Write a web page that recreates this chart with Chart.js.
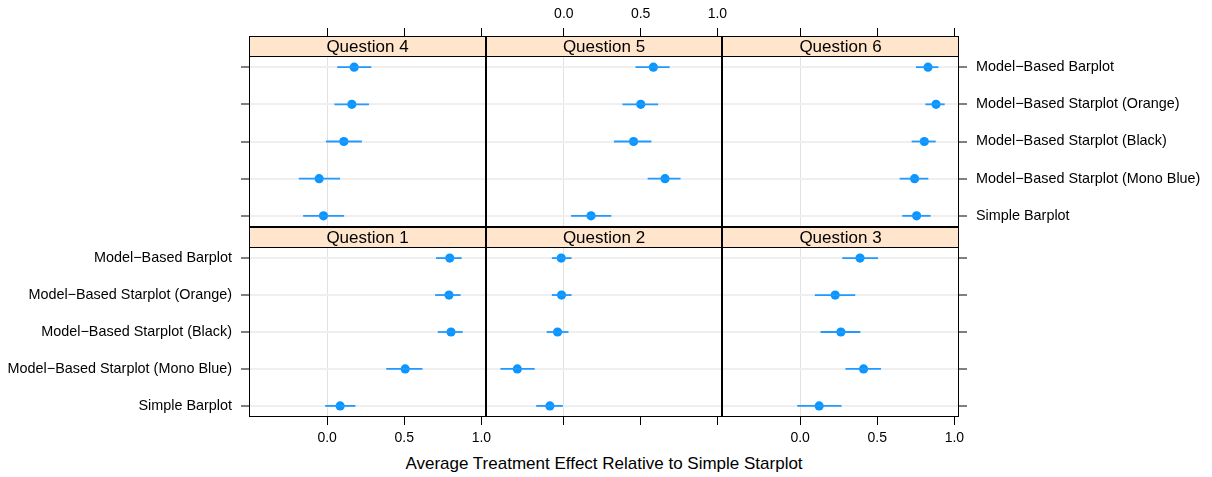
<!DOCTYPE html>
<html>
<head>
<meta charset="utf-8">
<script src="https://cdn.jsdelivr.net/npm/chart.js@4/dist/chart.umd.min.js"></script>
<style>
html,body{margin:0;padding:0;background:#fff;}
#wrap{position:relative;width:1212px;height:477px;overflow:hidden;}
#wrap canvas{position:absolute;left:0;top:0;}
#xtitle{position:absolute;left:249px;width:710px;top:454px;line-height:20px;text-align:center;font-size:17px;font-family:"Liberation Sans",Arial,sans-serif;color:#000;}
</style>
</head>
<body>
<div id="wrap">
  <div id="xtitle">Average Treatment Effect Relative to Simple Starplot</div>
</div>
<script>
// categories, bottom to top (y = 1..5)
const categories=['Simple Barplot','Model\u2212Based Starplot (Mono Blue)','Model\u2212Based Starplot (Black)','Model\u2212Based Starplot (Orange)','Model\u2212Based Barplot'];
const xTicks=[0,0.5,1.0];
const yTicks=[1,2,3,4,5];

// estimates and interval ends, same order as categories
const q1Est=[0.084,0.506,0.803,0.790,0.795];
const q1Lo =[-0.013,0.383,0.717,0.700,0.706];
const q1Hi =[0.183,0.618,0.879,0.865,0.872];
const q2Est=[-0.091,-0.303,-0.041,-0.015,-0.017];
const q2Lo =[-0.180,-0.413,-0.112,-0.078,-0.078];
const q2Hi =[-0.006,-0.190,0.030,0.050,0.050];
const q3Est=[0.123,0.411,0.264,0.227,0.388];
const q3Lo =[-0.019,0.294,0.132,0.095,0.273];
const q3Hi =[0.268,0.524,0.390,0.357,0.505];
const q4Est=[-0.024,-0.052,0.108,0.160,0.175];
const q4Lo =[-0.156,-0.184,-0.008,0.047,0.065];
const q4Hi =[0.110,0.084,0.225,0.271,0.286];
const q5Est=[0.177,0.659,0.454,0.501,0.583];
const q5Lo =[0.047,0.546,0.326,0.382,0.467];
const q5Hi =[0.309,0.760,0.570,0.614,0.689];
const q6Est=[0.755,0.742,0.805,0.881,0.829];
const q6Lo =[0.662,0.645,0.723,0.812,0.751];
const q6Hi =[0.846,0.831,0.879,0.937,0.896];

// layout
const W=1212,H=477;
const colEdges=[249,486,722,959];
const rowEdges=[[36,227],[227,417]]; // strip top .. body bottom
const stripH=20;
const xMin=-0.507,xMax=1.03;
const yMin=0.7,yMax=5.3;
const dotColor='#0a96ff', barColor='#2299ff';
const font={family:'"Liberation Sans", Arial, sans-serif',size:14};

Chart.defaults.font.family=font.family;
Chart.defaults.color='#000';

const panels=[
  {label:'Question 4',est:q4Est,lo:q4Lo,hi:q4Hi,col:0,row:0},
  {label:'Question 5',est:q5Est,lo:q5Lo,hi:q5Hi,col:1,row:0},
  {label:'Question 6',est:q6Est,lo:q6Lo,hi:q6Hi,col:2,row:0},
  {label:'Question 1',est:q1Est,lo:q1Lo,hi:q1Hi,col:0,row:1},
  {label:'Question 2',est:q2Est,lo:q2Lo,hi:q2Hi,col:1,row:1},
  {label:'Question 3',est:q3Est,lo:q3Lo,hi:q3Hi,col:2,row:1}
];

// strip + frame
const stripPlugin={
  id:'strip',
  afterDraw(chart,args,opts){
    const {ctx,chartArea:a}=chart;
    ctx.save();
    ctx.fillStyle='#ffe5cc';
    ctx.fillRect(a.left,a.top,a.right-a.left,stripH);
    ctx.strokeStyle='#000';
    ctx.lineWidth=1;
    ctx.beginPath();
    ctx.moveTo(a.left,a.top+stripH+0.5);
    ctx.lineTo(a.right,a.top+stripH+0.5);
    ctx.stroke();
    ctx.strokeRect(a.left+0.5,a.top+0.5,a.right-a.left-1,a.bottom-a.top-1);
    ctx.fillStyle='#000';
    ctx.font='17px '+font.family;
    ctx.textAlign='center';
    ctx.textBaseline='middle';
    ctx.fillText(opts.label,(a.left+a.right)/2,a.top+stripH/2+1);
    ctx.restore();
  }
};

// each axis box fills the margin out to the canvas edge
function axis(kind,position,ticksOn,labelsOn,main,yTop,size){
  const isX=kind==='x';
  return {
    type:'linear',axis:kind,position:position,
    min:isX?xMin:yMin,max:isX?xMax:yTop,
    afterBuildTicks:s=>{s.ticks=(isX?xTicks:yTicks).map(v=>({value:v}));},
    afterFit:s=>{if(isX)s.height=size;else s.width=size;},
    border:{display:false},
    grid:{
      display:true,drawOnChartArea:main,drawTicks:ticksOn,tickLength:8,
      tickColor:'#000',tickWidth:1,
      color:isX?(c=>c.tick&&c.tick.value===0?'#e2e2e2':'rgba(0,0,0,0)'):'#efefef',
      lineWidth:isX?1:2
    },
    ticks:{
      display:labelsOn,autoSkip:false,maxRotation:0,
      padding:isX?5:9,
      color:'#000',
      font:isX?font:{family:font.family,size:14.4},
      callback:v=>isX?v.toFixed(1):categories[v-1]
    }
  };
}

const wrap=document.getElementById('wrap');
panels.forEach(p=>{
  const cv=document.createElement('canvas');
  cv.width=W;cv.height=H;
  wrap.appendChild(cv);
  const [top,bottom]=rowEdges[p.row];
  const left=colEdges[p.col],right=colEdges[p.col+1];
  const bodyH=bottom-top-stripH;
  const yTop=yMax+(yMax-yMin)*stripH/bodyH;

  const datasets=[];
  p.est.forEach((e,i)=>{
    datasets.push({
      type:'line',showLine:true,
      data:[{x:p.lo[i],y:i+1},{x:p.hi[i],y:i+1}],
      borderColor:barColor,borderWidth:1.8,pointRadius:0,fill:false
    });
  });
  datasets.push({
    type:'scatter',
    data:p.est.map((e,i)=>({x:e,y:i+1})),
    backgroundColor:dotColor,borderWidth:0,pointRadius:4.6
  });

  new Chart(cv,{
    type:'scatter',
    data:{datasets:datasets},
    options:{
      responsive:false,animation:false,devicePixelRatio:1,
      layout:{padding:0},
      plugins:{legend:{display:false},tooltip:{enabled:false},strip:{label:p.label}},
      scales:{
        x:axis('x','bottom',p.row===1,p.row===1&&p.col!==1,true,yTop,H-bottom),
        x2:axis('x','top',p.row===0,p.row===0&&p.col===1,false,yTop,top),
        y:axis('y','left',p.col===0,p.col===0&&p.row===1,true,yTop,left),
        y2:axis('y','right',p.col===2,p.col===2&&p.row===0,false,yTop,W-right)
      }
    },
    plugins:[stripPlugin]
  });
});
</script>
</body>
</html>
